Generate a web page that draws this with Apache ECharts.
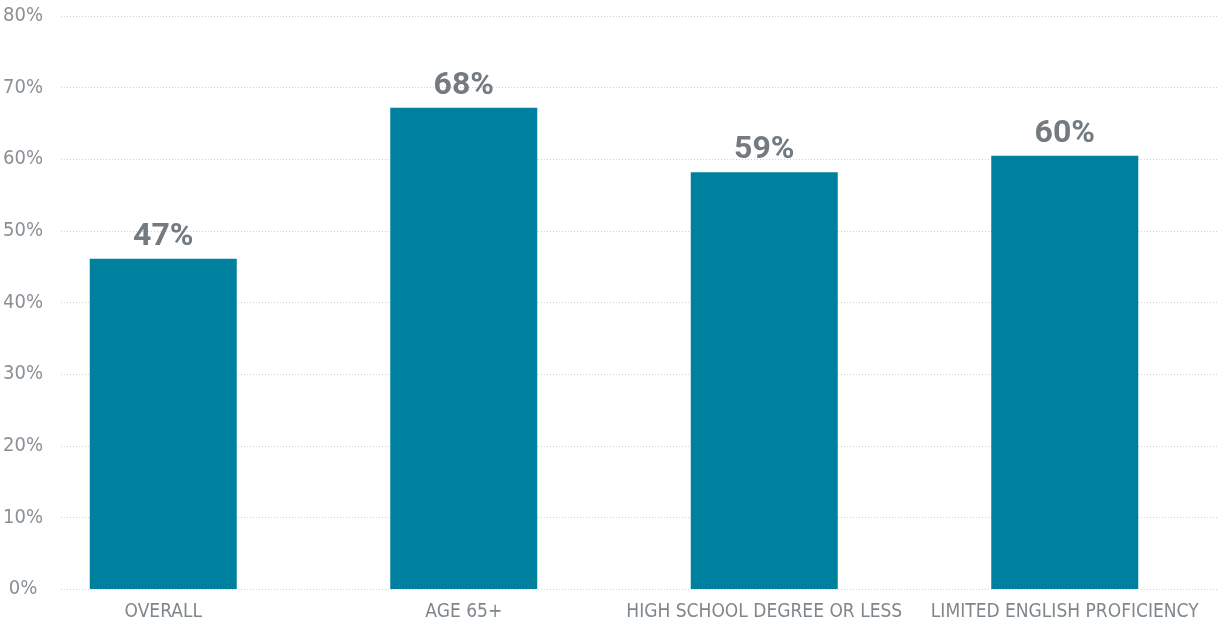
<!DOCTYPE html>
<html>
<head>
<meta charset="utf-8">
<script src="https://cdn.jsdelivr.net/npm/echarts@6/dist/echarts.min.js"></script>
<style>
  html, body { margin: 0; padding: 0; background: #fff; }
  #main { width: 1219px; height: 624px; }
</style>
</head>
<body>
<div id="main"></div>
<script>
// categories and values
var categories = ['OVERALL', 'AGE 65+', 'HIGH SCHOOL DEGREE OR LESS', 'LIMITED ENGLISH PROFICIENCY'];
var values = [46.1, 67.2, 58.2, 60.5];
var valueLabels = ['47%', '68%', '59%', '60%'];

var chart = echarts.init(document.getElementById('main'));
var narrow = '"DejaVu Sans Condensed", "Roboto", sans-serif';

chart.setOption({
    animation: false,
    // grid 0 carries the y axis and dotted lines, grid 1 the bars
    grid: [
        { left: 60, right: 0, top: 16, bottom: 35 },
        { left: 13, width: 1202, top: 16, bottom: 35 }
    ],
    xAxis: [
        { gridIndex: 0, type: 'category', data: categories, show: false },
        {
            gridIndex: 1,
            type: 'category',
            data: categories,
            axisLine: { show: false },
            axisTick: { show: false },
            axisLabel: {
                interval: 0,
                margin: 14,
                fontFamily: narrow,
                fontSize: 19,
                color: '#80878c'
            }
        }
    ],
    yAxis: [
        {
            gridIndex: 0,
            type: 'value',
            min: 0,
            max: 80,
            interval: 10,
            axisLine: { show: false },
            axisTick: { show: false },
            axisLabel: {
                formatter: '{value}%',
                align: 'center',
                margin: 38,
                fontFamily: narrow,
                fontSize: 20,
                color: '#8a9095'
            },
            splitLine: {
                lineStyle: { type: [1, 2], color: '#cfd2d4', width: 1 }
            }
        },
        { gridIndex: 1, type: 'value', min: 0, max: 80, show: false }
    ],
    series: [
        {
            type: 'bar',
            xAxisIndex: 1,
            yAxisIndex: 1,
            data: values,
            barWidth: 147,
            itemStyle: { color: '#00809f' },
            label: {
                show: true,
                position: 'top',
                distance: 6,
                formatter: function (p) { return valueLabels[p.dataIndex]; },
                fontFamily: 'Roboto',
                fontWeight: 'bold',
                fontSize: 32,
                color: '#737b80'
            }
        }
    ]
});
</script>
</body>
</html>
